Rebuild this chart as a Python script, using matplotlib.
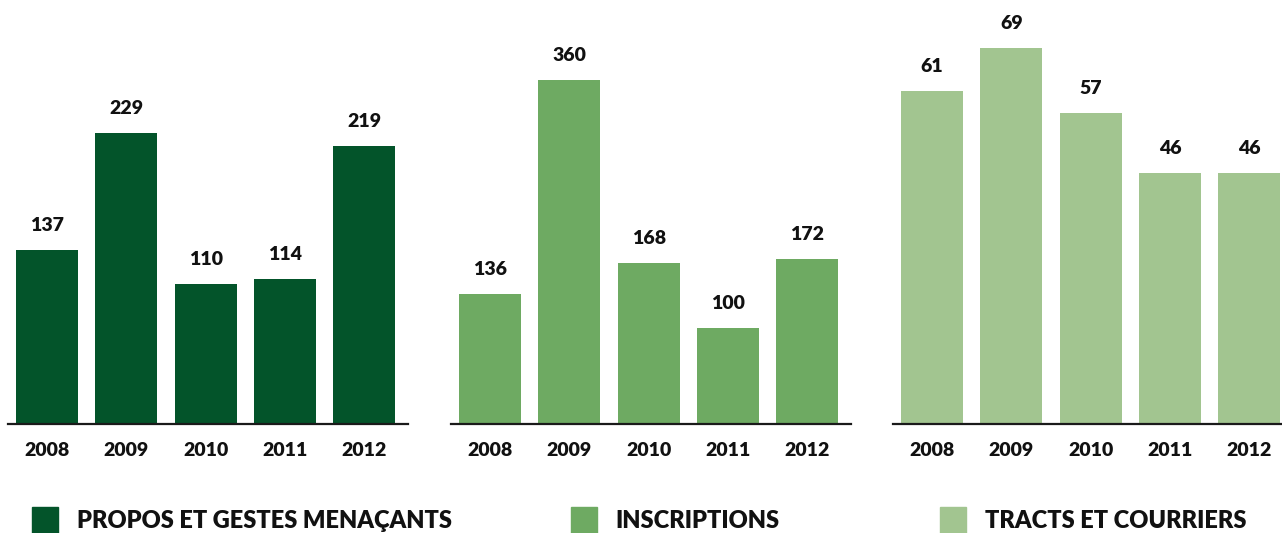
#!/usr/bin/env python3

import matplotlib

matplotlib.use("Agg")

import matplotlib.pyplot as plt
from matplotlib.patches import Rectangle

years = ["2008", "2009", "2010", "2011", "2012"]
propos = [137, 229, 110, 114, 219]
inscriptions = [136, 360, 168, 100, 172]
tracts = [61, 69, 57, 46, 46]

series_names = ["PROPOS ET GESTES MENAÇANTS", "INSCRIPTIONS", "TRACTS ET COURRIERS"]
colors = ["#03542a", "#6eaa62", "#a2c590"]

W, H = 1282, 533
DPI = 100
plt.rcParams["font.family"] = ["Lato", "DejaVu Sans"]
plt.rcParams["font.weight"] = "bold"

fig = plt.figure(figsize=(W / DPI, H / DPI), dpi=DPI)

baseline_px = 423.5
panel_left = [8, 451, 893]
panel_width = 400
y_tops = [333.8, 443.8, 77.8]
datasets = [propos, inscriptions, tracts]

for left, values, color, ytop in zip(panel_left, datasets, colors, y_tops):
    ax = fig.add_axes([left / W, (H - baseline_px) / H, panel_width / W, baseline_px / H])
    x = range(len(years))
    ax.bar(x, values, width=0.78, color=color, zorder=2)
    ax.set_xlim(-0.49, 4.55)
    ax.set_ylim(0, ytop)
    for s in ["top", "left", "right"]:
        ax.spines[s].set_visible(False)
    ax.spines["bottom"].set_linewidth(1.6)
    ax.spines["bottom"].set_color("#1a1a1a")
    ax.spines["bottom"].set_zorder(3)
    ax.set_yticks([])
    ax.set_xticks([])
    ax.patch.set_alpha(0)
    for i, v in enumerate(values):
        ax.annotate(str(v), xy=(i, v), xytext=(0, 19), textcoords="offset pixels",
                    ha="center", va="baseline", fontsize=14, fontweight="heavy", color="#111111")
        ax.annotate(years[i], xy=(i, 0), xytext=(0, -32.5), textcoords="offset pixels",
                    ha="center", va="baseline", fontsize=14, fontweight="heavy", color="#111111",
                    annotation_clip=False)

legend_sq = [32, 571, 940]
legend_txt = [77, 615, 985]
for sq, tx, name, color in zip(legend_sq, legend_txt, series_names, colors):
    fig.patches.append(Rectangle((sq / W, 0), 26 / W, 26.5 / H, transform=fig.transFigure,
                                 color=color, figure=fig))
    fig.text(tx / W, (H - 528) / H, name, ha="left", va="baseline", fontsize=17,
             fontweight="heavy", color="#111111")

fig.savefig("out.png", dpi=DPI)
